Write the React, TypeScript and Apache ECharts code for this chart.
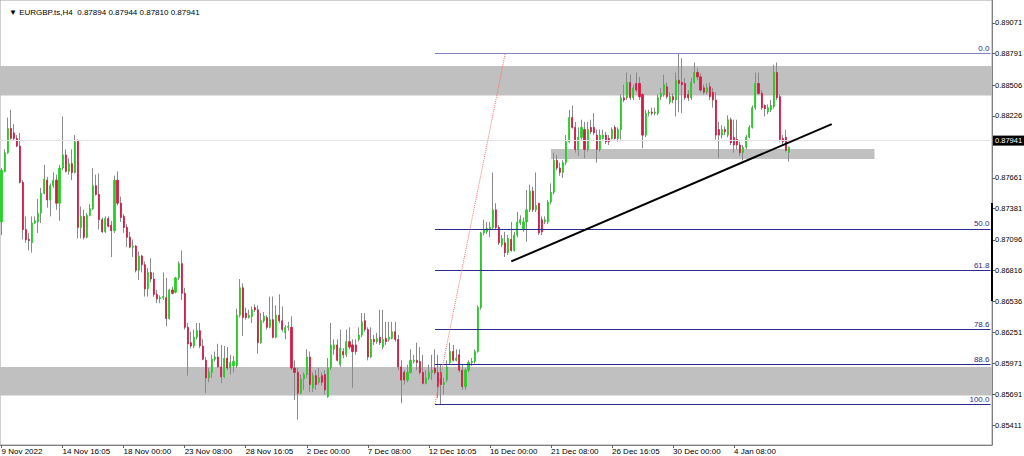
import React, { useEffect, useRef } from "react";
import * as echarts from "echarts";

// ---------- data ----------
const SYMBOL = "EURGBP.ts,H4";
const BARS_PER_LABEL = 20;
const TOTAL_SLOTS = 325; // bar slots across the visible window (incl. empty right margin)

const xTickLabels = [
  "9 Nov 2022", "14 Nov 16:05", "18 Nov 00:00", "23 Nov 08:00", "28 Nov 16:05",
  "2 Dec 00:00", "7 Dec 08:00", "12 Dec 16:05", "16 Dec 00:00", "21 Dec 08:00",
  "26 Dec 16:05", "30 Dec 00:00", "4 Jan 08:00",
];

const yTickValues = [
  0.89071, 0.88791, 0.88506, 0.88226, 0.87661, 0.87381, 0.87096,
  0.86816, 0.86536, 0.86251, 0.85971, 0.85691, 0.85411,
];
const yMin = 0.85229;
const yMax = 0.8928;
const lastPrice = 0.87941;

// [open, close, low, high] in pips (0.0001)
const ohlcPips: number[][] = [
  [8726, 8773, 8714, 8775], [8772, 8789, 8771, 8792], [8789, 8811, 8788, 8821], [8811, 8802, 8801, 8828],
  [8807, 8802, 8800, 8815], [8802, 8795, 8794, 8805], [8795, 8762, 8761, 8807], [8762, 8719, 8710, 8764],
  [8719, 8710, 8707, 8731], [8710, 8709, 8700, 8716], [8707, 8725, 8698, 8731], [8725, 8727, 8724, 8731],
  [8726, 8734, 8716, 8747], [8734, 8752, 8725, 8757], [8752, 8765, 8751, 8778], [8764, 8746, 8739, 8767],
  [8746, 8759, 8731, 8761], [8759, 8764, 8757, 8771], [8764, 8743, 8737, 8769], [8743, 8775, 8727, 8778],
  [8775, 8787, 8773, 8822], [8787, 8772, 8771, 8792], [8772, 8779, 8769, 8784], [8779, 8771, 8764, 8792],
  [8771, 8799, 8770, 8805], [8800, 8721, 8711, 8801], [8721, 8731, 8711, 8740], [8731, 8712, 8710, 8737],
  [8712, 8732, 8711, 8734], [8732, 8738, 8731, 8742], [8738, 8759, 8737, 8775], [8759, 8751, 8750, 8769],
  [8751, 8728, 8719, 8770], [8728, 8717, 8716, 8730], [8717, 8729, 8716, 8731], [8729, 8722, 8721, 8731],
  [8723, 8718, 8694, 8727], [8718, 8764, 8716, 8768], [8764, 8743, 8741, 8772], [8743, 8730, 8726, 8749],
  [8731, 8721, 8716, 8733], [8721, 8712, 8703, 8724], [8712, 8703, 8702, 8717], [8703, 8704, 8694, 8710],
  [8704, 8682, 8680, 8705], [8682, 8695, 8673, 8699], [8695, 8687, 8680, 8696], [8687, 8665, 8658, 8690],
  [8665, 8680, 8658, 8684], [8680, 8674, 8671, 8693], [8674, 8660, 8658, 8680], [8660, 8656, 8652, 8664],
  [8656, 8657, 8652, 8659], [8657, 8658, 8655, 8680], [8657, 8638, 8631, 8675], [8638, 8664, 8637, 8665],
  [8664, 8661, 8660, 8667], [8662, 8675, 8661, 8676], [8675, 8688, 8673, 8690], [8688, 8661, 8655, 8700],
  [8661, 8630, 8628, 8666], [8630, 8615, 8586, 8634], [8616, 8613, 8611, 8626], [8613, 8621, 8611, 8628],
  [8621, 8627, 8619, 8634], [8627, 8613, 8611, 8634], [8613, 8601, 8600, 8619], [8600, 8584, 8570, 8603],
  [8584, 8589, 8580, 8593], [8589, 8601, 8584, 8605], [8601, 8603, 8599, 8608], [8603, 8594, 8593, 8615],
  [8594, 8585, 8579, 8614], [8585, 8602, 8584, 8613], [8602, 8593, 8591, 8612], [8593, 8598, 8587, 8605],
  [8595, 8599, 8589, 8604], [8595, 8641, 8593, 8647], [8641, 8666, 8639, 8674], [8666, 8639, 8622, 8670],
  [8643, 8639, 8637, 8648], [8639, 8641, 8638, 8646], [8640, 8646, 8634, 8649], [8648, 8646, 8644, 8651],
  [8646, 8616, 8606, 8650], [8616, 8636, 8615, 8643], [8636, 8640, 8634, 8644], [8639, 8630, 8628, 8641],
  [8630, 8637, 8629, 8658], [8637, 8621, 8620, 8658], [8621, 8641, 8620, 8650], [8641, 8636, 8634, 8660],
  [8636, 8628, 8626, 8649], [8625, 8630, 8619, 8632], [8630, 8631, 8627, 8635], [8630, 8593, 8591, 8640],
  [8593, 8589, 8564, 8600], [8589, 8570, 8546, 8593], [8570, 8583, 8569, 8587], [8583, 8587, 8573, 8589],
  [8587, 8603, 8584, 8610], [8603, 8578, 8571, 8608], [8575, 8586, 8571, 8589], [8586, 8578, 8573, 8591],
  [8580, 8584, 8578, 8593], [8586, 8580, 8577, 8589], [8587, 8573, 8569, 8591], [8567, 8593, 8566, 8602],
  [8593, 8614, 8591, 8634], [8610, 8614, 8605, 8619], [8614, 8600, 8599, 8619], [8596, 8611, 8594, 8628],
  [8608, 8605, 8602, 8611], [8605, 8617, 8603, 8628], [8617, 8612, 8610, 8630], [8614, 8608, 8575, 8619],
  [8614, 8608, 8605, 8619], [8619, 8623, 8617, 8630], [8623, 8635, 8621, 8643], [8636, 8628, 8626, 8643],
  [8628, 8603, 8600, 8630], [8603, 8619, 8602, 8630], [8619, 8617, 8614, 8623], [8617, 8620, 8615, 8625],
  [8621, 8616, 8614, 8646], [8612, 8619, 8610, 8646], [8620, 8617, 8614, 8635], [8619, 8621, 8617, 8635],
  [8620, 8626, 8619, 8635], [8626, 8619, 8617, 8635], [8619, 8594, 8591, 8623], [8594, 8582, 8561, 8600],
  [8589, 8582, 8578, 8591], [8582, 8589, 8580, 8596], [8589, 8600, 8588, 8610], [8599, 8600, 8597, 8605],
  [8600, 8598, 8591, 8616], [8599, 8589, 8587, 8612], [8589, 8579, 8578, 8605], [8579, 8584, 8578, 8591],
  [8584, 8589, 8582, 8596], [8589, 8591, 8582, 8605], [8593, 8589, 8587, 8610], [8589, 8576, 8566, 8605],
  [8589, 8578, 8560, 8596], [8578, 8580, 8569, 8584], [8582, 8594, 8580, 8600], [8598, 8608, 8596, 8616],
  [8608, 8600, 8599, 8614], [8600, 8602, 8599, 8610], [8605, 8591, 8589, 8610], [8591, 8576, 8573, 8596],
  [8576, 8591, 8573, 8593], [8591, 8598, 8589, 8600], [8598, 8599, 8595, 8602], [8599, 8608, 8597, 8610],
  [8608, 8648, 8607, 8650], [8648, 8716, 8646, 8717], [8716, 8719, 8714, 8728], [8717, 8720, 8715, 8726],
  [8719, 8721, 8712, 8726], [8721, 8737, 8719, 8771], [8737, 8721, 8719, 8743], [8721, 8707, 8705, 8723],
  [8705, 8711, 8703, 8714], [8707, 8698, 8694, 8717], [8698, 8711, 8696, 8714], [8710, 8700, 8699, 8726],
  [8700, 8714, 8699, 8717], [8714, 8726, 8712, 8735], [8725, 8728, 8723, 8732], [8719, 8726, 8717, 8730],
  [8726, 8737, 8708, 8755], [8737, 8754, 8735, 8760], [8754, 8737, 8735, 8758], [8737, 8741, 8735, 8771],
  [8743, 8716, 8714, 8743], [8728, 8717, 8714, 8731], [8726, 8728, 8724, 8731], [8726, 8744, 8724, 8746],
  [8744, 8753, 8742, 8761], [8753, 8782, 8751, 8789], [8782, 8775, 8773, 8787], [8775, 8771, 8768, 8780],
  [8771, 8780, 8766, 8782], [8780, 8799, 8778, 8805], [8799, 8821, 8798, 8828], [8821, 8812, 8811, 8832],
  [8812, 8792, 8789, 8817], [8792, 8803, 8786, 8812], [8803, 8812, 8801, 8819], [8810, 8792, 8784, 8817],
  [8792, 8810, 8790, 8817], [8812, 8808, 8806, 8819], [8812, 8807, 8805, 8825], [8805, 8792, 8780, 8810],
  [8792, 8805, 8790, 8810], [8802, 8805, 8801, 8810], [8805, 8799, 8797, 8808], [8802, 8799, 8796, 8805],
  [8802, 8810, 8801, 8812], [8812, 8802, 8801, 8814], [8802, 8810, 8799, 8812], [8810, 8839, 8801, 8842],
  [8839, 8837, 8835, 8851], [8839, 8853, 8837, 8862], [8853, 8839, 8837, 8860], [8839, 8848, 8837, 8851],
  [8852, 8846, 8844, 8862], [8852, 8840, 8837, 8858], [8842, 8805, 8793, 8843], [8805, 8825, 8803, 8828],
  [8825, 8826, 8822, 8828], [8826, 8825, 8823, 8830], [8825, 8826, 8823, 8830], [8825, 8839, 8823, 8842],
  [8840, 8843, 8837, 8848], [8842, 8851, 8840, 8860], [8849, 8840, 8838, 8853], [8835, 8840, 8833, 8844],
  [8840, 8837, 8834, 8843], [8837, 8855, 8822, 8862], [8855, 8852, 8826, 8879], [8853, 8851, 8825, 8875],
  [8852, 8839, 8837, 8857], [8842, 8839, 8836, 8846], [8839, 8853, 8837, 8857], [8853, 8862, 8852, 8871],
  [8862, 8858, 8855, 8866], [8858, 8846, 8844, 8861], [8848, 8844, 8842, 8851], [8844, 8848, 8842, 8852],
  [8849, 8840, 8837, 8853], [8844, 8837, 8830, 8848], [8837, 8805, 8801, 8844], [8810, 8805, 8784, 8817],
  [8805, 8810, 8802, 8814], [8810, 8808, 8805, 8813], [8805, 8819, 8803, 8823], [8819, 8798, 8796, 8821],
  [8803, 8796, 8789, 8819], [8801, 8796, 8792, 8819], [8796, 8789, 8786, 8799], [8789, 8794, 8782, 8796],
  [8794, 8803, 8792, 8805], [8803, 8812, 8802, 8814], [8812, 8830, 8811, 8832], [8830, 8852, 8828, 8862],
  [8852, 8843, 8842, 8862], [8843, 8830, 8828, 8846], [8832, 8829, 8822, 8833], [8826, 8830, 8824, 8833],
  [8828, 8832, 8826, 8837], [8831, 8862, 8829, 8869], [8862, 8839, 8837, 8871], [8840, 8801, 8799, 8842],
  [8802, 8799, 8796, 8805], [8803, 8791, 8790, 8810], [8789.4, 8794.1, 8781.0, 8794.4],
];

// Fibonacci retracement
const fibHigh = 0.88791;
const fibLow = 0.85602;
const fibStartIndex = 142;
const fibHighIndex = 165;
const fibEndIndex = 324;
const fibRatios = [0, 50, 61.8, 78.6, 88.6, 100];

// support / resistance zones [low, high]
const fullZones = [
  [0.8841, 0.8868],
  [0.8568, 0.8594],
];
const partialZone = { from: 180, to: 286, low: 0.87833, high: 0.87924 };

// trend line [index, price]
const trendLine = [
  [167, 0.869],
  [272, 0.8815],
];

// ---------- chart ----------
const FONT = "Liberation Sans";
const BULL = "#22d022";
const BEAR = "#d41a44";
const WICK = "#8a8a8a";
const FIB = "#2b2b8c";

function buildOption() {
  const candles = ohlcPips.map((r) => r.map((v) => v / 10000));
  const bodies = candles.map(([o, c]) => [o, c, Math.min(o, c), Math.max(o, c)]);
  const slots = Array.from({ length: TOTAL_SLOTS }, (_, i) => String(i));
  const last = candles[candles.length - 1];
  const showTick = (i: number) =>
    i % BARS_PER_LABEL === 0 && i / BARS_PER_LABEL < xTickLabels.length;

  const fibLines = fibRatios.map((r) => {
    const level = fibHigh - (r / 100) * (fibHigh - fibLow);
    return [
      {
        coord: [fibStartIndex, level],
        lineStyle: { color: r === 0 ? "#8282c4" : FIB, width: 1, type: "solid" },
        label: {
          show: true,
          position: "insideEndTop",
          formatter: r.toFixed(1),
          color: FIB,
          fontSize: 8,
          fontFamily: FONT,
          distance: [1, 1],
        },
      },
      { coord: [fibEndIndex, level] },
    ];
  });

  return {
    animation: false,
    backgroundColor: "#ffffff",
    textStyle: { fontFamily: FONT },
    title: {
      text: `▼ ${SYMBOL}  ${last[0].toFixed(5)} ${last[3].toFixed(5)} ${last[2].toFixed(5)} ${last[1].toFixed(5)}`,
      left: 4,
      top: 3,
      textStyle: { fontSize: 8, fontWeight: "normal", color: "#000", fontFamily: FONT },
    },
    grid: {
      left: 0,
      right: 32,
      top: 0,
      bottom: 11,
      containLabel: false,
      outerBoundsMode: "none",
      show: true,
      borderColor: "#a0a0a0",
      borderWidth: 1,
    },
    xAxis: {
      type: "category",
      data: slots,
      boundaryGap: true,
      axisLine: { show: true, lineStyle: { color: "#808080" } },
      axisTick: {
        show: true,
        alignWithLabel: true,
        length: 3,
        interval: (i: number) => showTick(i),
        lineStyle: { color: "#606060" },
      },
      axisLabel: {
        interval: (i: number) => showTick(i),
        formatter: (_v: string, i: number) =>
          showTick(i) ? xTickLabels[i / BARS_PER_LABEL] : "",
        align: "left",
        fontSize: 8,
        color: "#000",
        margin: 2,
        hideOverlap: false,
      },
      splitLine: { show: false },
    },
    yAxis: {
      type: "value",
      position: "right",
      min: yMin,
      max: yMax,
      scale: true,
      axisLine: { show: true, lineStyle: { color: "#808080" } },
      axisTick: { show: true, length: 3, customValues: yTickValues, lineStyle: { color: "#606060" } },
      axisLabel: {
        customValues: yTickValues,
        formatter: (v: number) => v.toFixed(5),
        fontSize: 7.5,
        color: "#000",
        margin: 3,
      },
      splitLine: { show: false },
    },
    graphic: [
      { type: "rect", shape: { x: 991, y: 203, width: 2, height: 98 }, style: { fill: "#000" }, z: 10 },
    ],
    series: [
      {
        type: "line",
        data: [],
        z: 1,
        silent: true,
        markArea: {
          silent: true,
          itemStyle: { color: "#c0c0c0" },
          data: [
            ...fullZones.map(([lo, hi]) => [{ yAxis: hi }, { yAxis: lo }]),
            [
              { coord: [partialZone.from, partialZone.high] },
              { coord: [partialZone.to, partialZone.low] },
            ],
          ],
        },
        markLine: {
          silent: true,
          symbol: ["none", "none"],
          data: [
            {
              yAxis: lastPrice,
              lineStyle: { color: "#e2e2e2", width: 1, type: "solid" },
              label: {
                show: true,
                position: "end",
                formatter: lastPrice.toFixed(5),
                backgroundColor: "#000",
                color: "#fff",
                fontSize: 7.5,
                fontFamily: FONT,
                padding: [1, 2, 1, 2],
                distance: 1,
              },
            },
          ],
        },
      },
      {
        type: "candlestick",
        data: candles,
        z: 2,
        silent: true,
        barWidth: 1,
        itemStyle: {
          color: WICK,
          color0: WICK,
          borderColor: WICK,
          borderColor0: WICK,
          borderWidth: 1,
        },
      },
      {
        type: "candlestick",
        data: bodies,
        z: 3,
        silent: true,
        barWidth: 1.6,
        itemStyle: {
          color: BULL,
          color0: BEAR,
          borderColor: BULL,
          borderColor0: BEAR,
          borderWidth: 0.8,
        },
        markLine: {
          silent: true,
          symbol: ["none", "none"],
          data: [
            ...fibLines,
            [
              {
                coord: [fibStartIndex, fibLow],
                lineStyle: { color: "#ff7070", width: 1, type: "dotted" },
                label: { show: false },
              },
              { coord: [fibHighIndex, fibHigh] },
            ],
            [
              {
                coord: trendLine[0],
                lineStyle: { color: "#000", width: 2, type: "solid" },
                label: { show: false },
              },
              { coord: trendLine[1] },
            ],
          ],
        },
      },
    ],
  };
}

export default function App() {
  const ref = useRef<HTMLDivElement>(null);
  useEffect(() => {
    if (!ref.current) return;
    const chart = echarts.init(ref.current, undefined, { renderer: "svg" });
    chart.setOption(buildOption() as any);
    return () => chart.dispose();
  }, []);
  return (
    <div
      ref={ref}
      style={{ position: "fixed", left: 0, top: 0, width: 1024, height: 456, background: "#fff" }}
    />
  );
}
